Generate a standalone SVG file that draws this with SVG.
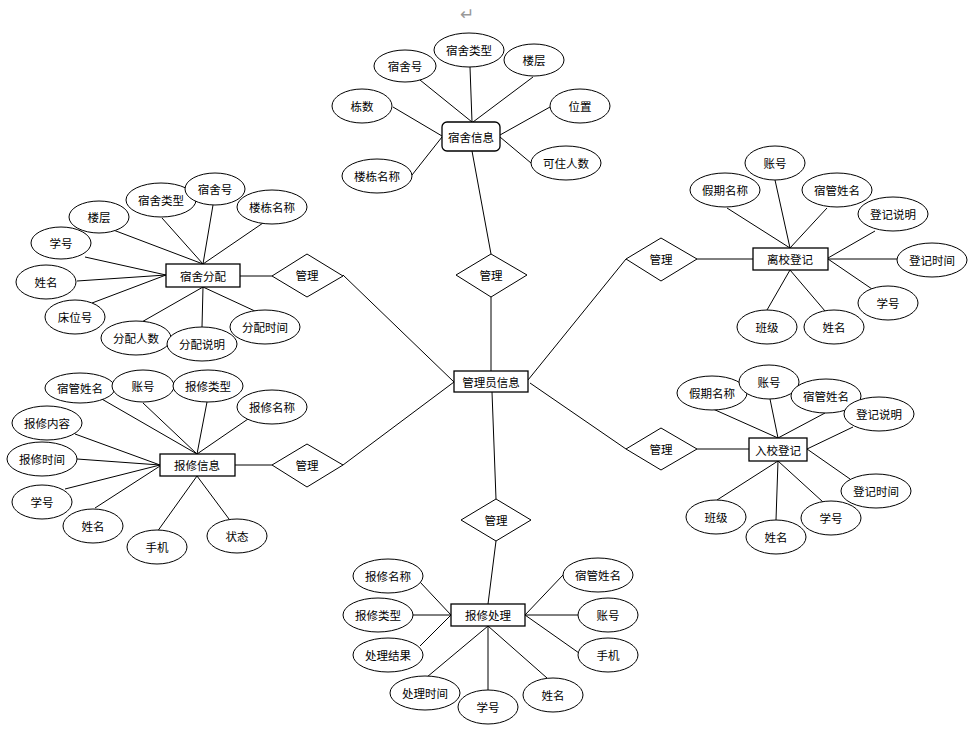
<svg xmlns="http://www.w3.org/2000/svg" width="972" height="732" viewBox="0 0 972 732">
<style>
.bg{fill:#fff}
.c line{stroke:#000;stroke-width:1}
.a ellipse{fill:#fff;stroke:#000;stroke-width:1}
.e rect{fill:#fff;stroke:#000;stroke-width:1.3}
.r polygon{fill:#fff;stroke:#000;stroke-width:1}
text{font-family:"Noto Sans CJK SC","Noto Sans",sans-serif;font-size:11.5px;fill:#000;text-anchor:middle;dominant-baseline:central}
.ret{font-family:"DejaVu Sans",sans-serif;font-size:17px;fill:#999}
</style>
<rect class="bg" x="0" y="0" width="972" height="732"/>
<text class="ret" x="467" y="14">↵</text>
<g id="connectors" class="c">
<line x1="420" y1="80" x2="472" y2="122"/>
<line x1="470" y1="67" x2="472" y2="122"/>
<line x1="533" y1="77" x2="473" y2="122"/>
<line x1="393" y1="107" x2="442" y2="136"/>
<line x1="412" y1="175" x2="442" y2="137"/>
<line x1="550" y1="107" x2="500" y2="135"/>
<line x1="531" y1="163" x2="500" y2="137"/>
<line x1="472" y1="151" x2="491" y2="254"/>
<line x1="491" y1="297" x2="491" y2="371"/>
<line x1="343" y1="275" x2="454" y2="382"/>
<line x1="528" y1="380" x2="626" y2="259"/>
<line x1="697" y1="259" x2="753" y2="259"/>
<line x1="343" y1="465" x2="454" y2="382"/>
<line x1="530" y1="383" x2="626" y2="449"/>
<line x1="697" y1="449" x2="749" y2="449"/>
<line x1="492" y1="392" x2="496" y2="499"/>
<line x1="496" y1="541" x2="488" y2="604"/>
<line x1="240" y1="276" x2="272" y2="276"/>
<line x1="235" y1="465" x2="272" y2="465"/>
<line x1="108" y1="228" x2="203" y2="264"/>
<line x1="162" y1="218" x2="203" y2="264"/>
<line x1="213" y1="205" x2="203" y2="264"/>
<line x1="263" y1="223" x2="203" y2="264"/>
<line x1="85" y1="257" x2="166" y2="275"/>
<line x1="77" y1="281" x2="166" y2="275"/>
<line x1="92" y1="303" x2="166" y2="275"/>
<line x1="140" y1="323" x2="203" y2="287"/>
<line x1="202" y1="327" x2="203" y2="287"/>
<line x1="257" y1="312" x2="203" y2="287"/>
<line x1="100" y1="398" x2="197" y2="454"/>
<line x1="143" y1="403" x2="197" y2="454"/>
<line x1="207" y1="402" x2="197" y2="454"/>
<line x1="248" y1="419" x2="197" y2="454"/>
<line x1="75" y1="434" x2="160" y2="465"/>
<line x1="77" y1="459" x2="160" y2="465"/>
<line x1="65" y1="489" x2="160" y2="465"/>
<line x1="95" y1="508" x2="160" y2="466"/>
<line x1="157" y1="532" x2="197" y2="476"/>
<line x1="229" y1="519" x2="197" y2="476"/>
<line x1="727" y1="208" x2="790" y2="248"/>
<line x1="775" y1="180" x2="790" y2="248"/>
<line x1="827" y1="208" x2="790" y2="248"/>
<line x1="875" y1="231" x2="828" y2="258"/>
<line x1="897" y1="259" x2="828" y2="259"/>
<line x1="872" y1="289" x2="828" y2="259"/>
<line x1="767" y1="310" x2="790" y2="270"/>
<line x1="825" y1="311" x2="790" y2="270"/>
<line x1="713" y1="409" x2="778" y2="438"/>
<line x1="770" y1="399" x2="778" y2="438"/>
<line x1="825" y1="413" x2="778" y2="438"/>
<line x1="853" y1="427" x2="807" y2="449"/>
<line x1="850" y1="479" x2="807" y2="449"/>
<line x1="717" y1="500" x2="778" y2="461"/>
<line x1="776" y1="520" x2="778" y2="461"/>
<line x1="823" y1="502" x2="778" y2="461"/>
<line x1="420" y1="582" x2="451" y2="615"/>
<line x1="413" y1="615" x2="451" y2="615"/>
<line x1="420" y1="646" x2="451" y2="615"/>
<line x1="563" y1="575" x2="525" y2="615"/>
<line x1="578" y1="615" x2="525" y2="615"/>
<line x1="579" y1="653" x2="525" y2="615"/>
<line x1="427" y1="677" x2="488" y2="626"/>
<line x1="488" y1="690" x2="488" y2="626"/>
<line x1="547" y1="678" x2="488" y2="626"/>
</g>
<!-- entities -->
<g id="e-dorm-info" class="e"><rect x="442" y="122" width="58" height="29" rx="5"/><text x="471" y="137">宿舍信息</text></g>
<g id="e-admin" class="e"><rect x="454" y="371" width="74" height="21"/><text x="491" y="382">管理员信息</text></g>
<g id="e-alloc" class="e"><rect x="166" y="264" width="74" height="23"/><text x="203" y="276">宿舍分配</text></g>
<g id="e-repair" class="e"><rect x="160" y="454" width="75" height="22"/><text x="197" y="465">报修信息</text></g>
<g id="e-leave" class="e"><rect x="753" y="248" width="75" height="22"/><text x="790" y="259">离校登记</text></g>
<g id="e-enter" class="e"><rect x="749" y="438" width="58" height="23"/><text x="778" y="450">入校登记</text></g>
<g id="e-proc" class="e"><rect x="451" y="604" width="74" height="22"/><text x="488" y="615">报修处理</text></g>
<!-- relationships -->
<g id="r-top" class="r"><polygon points="456,275 491,254 527,275 491,297"/><text x="491" y="275">管理</text></g>
<g id="r-lt" class="r"><polygon points="272,276 307,254 343,276 307,297"/><text x="307" y="275">管理</text></g>
<g id="r-rt" class="r"><polygon points="626,259 661,238 697,259 661,281"/><text x="661" y="259">管理</text></g>
<g id="r-lb" class="r"><polygon points="272,465 307,444 343,465 307,487"/><text x="307" y="465">管理</text></g>
<g id="r-rb" class="r"><polygon points="626,449 661,428 697,449 661,470"/><text x="661" y="449">管理</text></g>
<g id="r-bot" class="r"><polygon points="461,520 496,499 531,520 496,541"/><text x="496" y="520">管理</text></g>
<!-- attributes of 宿舍信息 -->
<g id="a-di-1" class="a"><ellipse cx="405" cy="66" rx="31" ry="16"/><text x="405" y="66">宿舍号</text></g>
<g id="a-di-2" class="a"><ellipse cx="469" cy="50" rx="35" ry="17"/><text x="469" y="50">宿舍类型</text></g>
<g id="a-di-3" class="a"><ellipse cx="534" cy="60" rx="30" ry="16"/><text x="534" y="60">楼层</text></g>
<g id="a-di-4" class="a"><ellipse cx="362" cy="106" rx="30" ry="17"/><text x="362" y="106">栋数</text></g>
<g id="a-di-5" class="a"><ellipse cx="580" cy="106" rx="30" ry="17"/><text x="580" y="106">位置</text></g>
<g id="a-di-6" class="a"><ellipse cx="566" cy="163" rx="35" ry="17"/><text x="566" y="163">可住人数</text></g>
<g id="a-di-7" class="a"><ellipse cx="377" cy="176" rx="35" ry="17"/><text x="377" y="176">楼栋名称</text></g>
<!-- attributes of 宿舍分配 -->
<g id="a-al-1" class="a"><ellipse cx="99" cy="217" rx="30" ry="16"/><text x="99" y="217">楼层</text></g>
<g id="a-al-2" class="a"><ellipse cx="161" cy="200" rx="35" ry="17"/><text x="161" y="200">宿舍类型</text></g>
<g id="a-al-3" class="a"><ellipse cx="215" cy="189" rx="30" ry="16"/><text x="215" y="189">宿舍号</text></g>
<g id="a-al-4" class="a"><ellipse cx="272" cy="207" rx="35" ry="17"/><text x="272" y="207">楼栋名称</text></g>
<g id="a-al-5" class="a"><ellipse cx="61" cy="243" rx="30" ry="16"/><text x="61" y="243">学号</text></g>
<g id="a-al-6" class="a"><ellipse cx="46" cy="282" rx="30" ry="17"/><text x="46" y="282">姓名</text></g>
<g id="a-al-7" class="a"><ellipse cx="75" cy="317" rx="30" ry="17"/><text x="75" y="317">床位号</text></g>
<g id="a-al-8" class="a"><ellipse cx="136" cy="338" rx="35" ry="17"/><text x="136" y="338">分配人数</text></g>
<g id="a-al-9" class="a"><ellipse cx="202" cy="344" rx="35" ry="17"/><text x="202" y="344">分配说明</text></g>
<g id="a-al-10" class="a"><ellipse cx="265" cy="327" rx="35" ry="17"/><text x="265" y="327">分配时间</text></g>
<!-- attributes of 报修信息 -->
<g id="a-rp-1" class="a"><ellipse cx="80" cy="388" rx="35" ry="15"/><text x="80" y="388">宿管姓名</text></g>
<g id="a-rp-2" class="a"><ellipse cx="143" cy="386" rx="31" ry="16"/><text x="143" y="386">账号</text></g>
<g id="a-rp-3" class="a"><ellipse cx="208" cy="386" rx="35" ry="16"/><text x="208" y="386">报修类型</text></g>
<g id="a-rp-4" class="a"><ellipse cx="272" cy="407" rx="35" ry="17"/><text x="272" y="407">报修名称</text></g>
<g id="a-rp-5" class="a"><ellipse cx="47" cy="423" rx="35" ry="17"/><text x="47" y="423">报修内容</text></g>
<g id="a-rp-6" class="a"><ellipse cx="42" cy="459" rx="35" ry="17"/><text x="42" y="459">报修时间</text></g>
<g id="a-rp-7" class="a"><ellipse cx="42" cy="502" rx="30" ry="17"/><text x="42" y="502">学号</text></g>
<g id="a-rp-8" class="a"><ellipse cx="93" cy="526" rx="30" ry="17"/><text x="93" y="526">姓名</text></g>
<g id="a-rp-9" class="a"><ellipse cx="157" cy="547" rx="30" ry="17"/><text x="157" y="547">手机</text></g>
<g id="a-rp-10" class="a"><ellipse cx="237" cy="536" rx="30" ry="17"/><text x="237" y="536">状态</text></g>
<!-- attributes of 离校登记 -->
<g id="a-lv-1" class="a"><ellipse cx="775" cy="163" rx="30" ry="17"/><text x="775" y="163">账号</text></g>
<g id="a-lv-2" class="a"><ellipse cx="725" cy="190" rx="35" ry="17"/><text x="725" y="190">假期名称</text></g>
<g id="a-lv-3" class="a"><ellipse cx="837" cy="190" rx="35" ry="17"/><text x="837" y="190">宿管姓名</text></g>
<g id="a-lv-4" class="a"><ellipse cx="893" cy="214" rx="35" ry="17"/><text x="893" y="214">登记说明</text></g>
<g id="a-lv-5" class="a"><ellipse cx="932" cy="260" rx="35" ry="17"/><text x="932" y="260">登记时间</text></g>
<g id="a-lv-6" class="a"><ellipse cx="888" cy="303" rx="30" ry="17"/><text x="888" y="303">学号</text></g>
<g id="a-lv-7" class="a"><ellipse cx="767" cy="327" rx="30" ry="17"/><text x="767" y="327">班级</text></g>
<g id="a-lv-8" class="a"><ellipse cx="834" cy="327" rx="30" ry="17"/><text x="834" y="327">姓名</text></g>
<!-- attributes of 入校登记 -->
<g id="a-en-1" class="a"><ellipse cx="712" cy="393" rx="35" ry="17"/><text x="712" y="393">假期名称</text></g>
<g id="a-en-2" class="a"><ellipse cx="769" cy="382" rx="30" ry="17"/><text x="769" y="382">账号</text></g>
<g id="a-en-3" class="a"><ellipse cx="826" cy="396" rx="35" ry="17"/><text x="826" y="396">宿管姓名</text></g>
<g id="a-en-4" class="a"><ellipse cx="879" cy="414" rx="35" ry="17"/><text x="879" y="414">登记说明</text></g>
<g id="a-en-5" class="a"><ellipse cx="876" cy="491" rx="35" ry="17"/><text x="876" y="491">登记时间</text></g>
<g id="a-en-6" class="a"><ellipse cx="716" cy="517" rx="30" ry="17"/><text x="716" y="517">班级</text></g>
<g id="a-en-7" class="a"><ellipse cx="776" cy="537" rx="30" ry="17"/><text x="776" y="537">姓名</text></g>
<g id="a-en-8" class="a"><ellipse cx="831" cy="518" rx="30" ry="17"/><text x="831" y="518">学号</text></g>
<!-- attributes of 报修处理 -->
<g id="a-pr-1" class="a"><ellipse cx="388" cy="576" rx="35" ry="17"/><text x="388" y="576">报修名称</text></g>
<g id="a-pr-2" class="a"><ellipse cx="378" cy="615" rx="35" ry="17"/><text x="378" y="615">报修类型</text></g>
<g id="a-pr-3" class="a"><ellipse cx="388" cy="655" rx="35" ry="17"/><text x="388" y="655">处理结果</text></g>
<g id="a-pr-4" class="a"><ellipse cx="598" cy="575" rx="35" ry="17"/><text x="598" y="575">宿管姓名</text></g>
<g id="a-pr-5" class="a"><ellipse cx="608" cy="615" rx="30" ry="17"/><text x="608" y="615">账号</text></g>
<g id="a-pr-6" class="a"><ellipse cx="608" cy="655" rx="30" ry="17"/><text x="608" y="655">手机</text></g>
<g id="a-pr-7" class="a"><ellipse cx="425" cy="693" rx="35" ry="17"/><text x="425" y="693">处理时间</text></g>
<g id="a-pr-8" class="a"><ellipse cx="488" cy="707" rx="30" ry="17"/><text x="488" y="707">学号</text></g>
<g id="a-pr-9" class="a"><ellipse cx="553" cy="695" rx="30" ry="17"/><text x="553" y="695">姓名</text></g>
</svg>
